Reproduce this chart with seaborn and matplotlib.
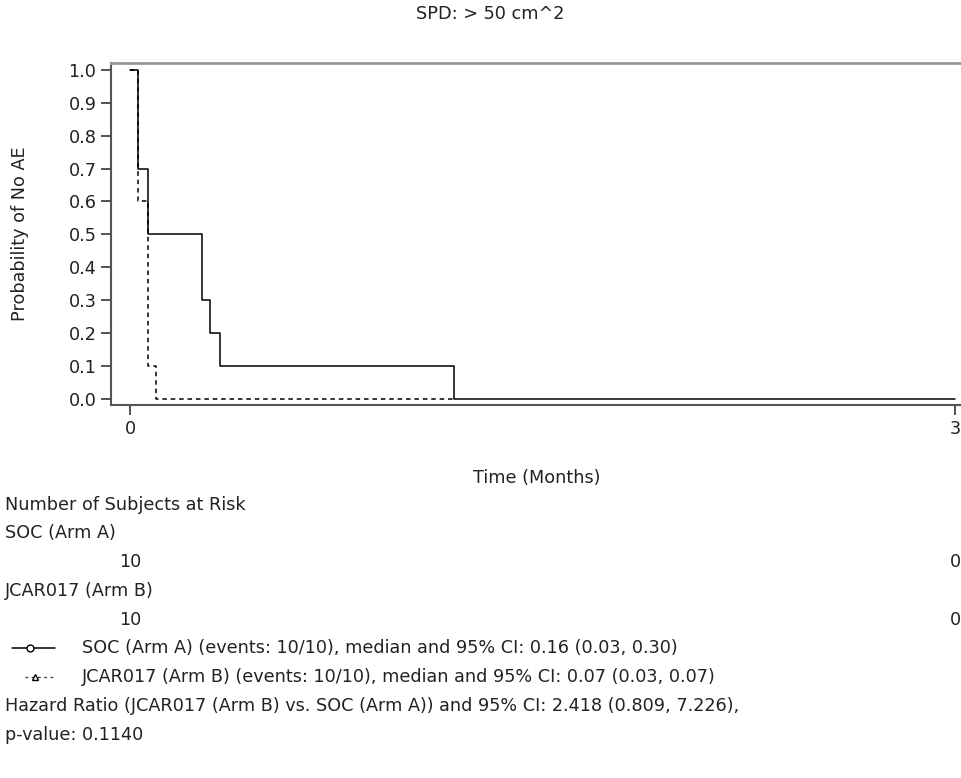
import matplotlib
matplotlib.use("Agg")
import matplotlib.pyplot as plt
from matplotlib.lines import Line2D
import pandas as pd
import seaborn as sns

# KM step data
soc_time = [0.0, 0.029, 0.065, 0.262, 0.291, 0.327, 1.178, 3.0]
soc_surv = [1.0, 0.7, 0.5, 0.3, 0.2, 0.1, 0.0, 0.0]
jcar_time = [0.0, 0.029, 0.065, 0.095, 1.178]
jcar_surv = [1.0, 0.6, 0.1, 0.0, 0.0]

y_ticks = [0.0, 0.1, 0.2, 0.3, 0.4, 0.5, 0.6, 0.7, 0.8, 0.9, 1.0]
x_ticks = [0, 3]

risk_times = [0, 3]
soc_risk = [10, 0]
jcar_risk = [10, 0]

title = "SPD: > 50 cm^2"
legend_soc = "SOC (Arm A) (events: 10/10), median and 95% CI: 0.16 (0.03, 0.30)"
legend_jcar = "JCAR017 (Arm B) (events: 10/10), median and 95% CI: 0.07 (0.03, 0.07)"
hr_text = "Hazard Ratio (JCAR017 (Arm B) vs. SOC (Arm A)) and 95% CI: 2.418 (0.809, 7.226),"
p_text = "p-value: 0.1140"

sns.set_style("ticks")
plt.rcParams['font.family'] = ['DejaVu Sans']
fs = 12.7

W, H = 962, 778
fig = plt.figure(figsize=(W / 100, H / 100), dpi=100)
ax = fig.add_axes([111 / W, 1 - 405 / H, (W - 111) / W, (405 - 63) / H])

df_soc = pd.DataFrame({'time': soc_time, 'surv': soc_surv})
df_jcar = pd.DataFrame({'time': jcar_time, 'surv': jcar_surv})
sns.lineplot(data=df_jcar, x='time', y='surv', ax=ax, drawstyle='steps-post',
             color='black', linewidth=1.1, linestyle=(0, (3, 2.5)))
sns.lineplot(data=df_soc, x='time', y='surv', ax=ax, drawstyle='steps-post',
             color='black', linewidth=1.1)

ax.set_xlim(-0.069, 3.025)
ax.set_ylim(-0.0195, 1.0213)
ax.set_xticks(x_ticks)
ax.set_yticks(y_ticks)
ax.set_yticklabels([f"{v:.1f}" for v in y_ticks])
ax.tick_params(labelsize=fs, length=7, width=1.3, color='#444444', labelcolor='#222222')

ax.spines['right'].set_visible(False)
ax.spines['top'].set_color('#999999')
ax.spines['top'].set_linewidth(2)
for s in ['left', 'bottom']:
    ax.spines[s].set_color('#555555')
    ax.spines[s].set_linewidth(1.5)

ax.set_ylabel("Probability of No AE", fontsize=fs, color='#222222')
ax.yaxis.set_label_coords(-0.107, 0.5)
ax.yaxis.label.set_va('center')
ax.set_xlabel("Time (Months)", fontsize=fs, color='#222222')
ax.xaxis.set_label_coords(0.5, -0.213)
ax.xaxis.label.set_va('center')

fig.text(490 / W, 1 - 14 / H, title, ha='center', va='center', fontsize=fs, color='#222222')


def ftext(x, y, s, **kw):
    fig.text(x / W, 1 - y / H, s, va='center', fontsize=fs, color='#222222', **kw)


# at-risk table
ftext(5, 505, "Number of Subjects at Risk")
ftext(5, 533, "SOC (Arm A)")
ftext(5, 591, "JCAR017 (Arm B)")
for t, n in zip(risk_times, soc_risk):
    ax.text(t, (405 - 562) / 342, str(n), transform=ax.get_xaxis_transform(),
            ha='center', va='center', fontsize=fs, color='#222222')
for t, n in zip(risk_times, jcar_risk):
    ax.text(t, (405 - 620) / 342, str(n), transform=ax.get_xaxis_transform(),
            ha='center', va='center', fontsize=fs, color='#222222')

# legend
fig.add_artist(Line2D([12 / W, 55 / W], [1 - 648 / H] * 2, color='black', lw=1.1))
fig.add_artist(Line2D([30 / W], [1 - 648 / H], marker='o', markersize=5, mfc='white',
                      mec='black', mew=1, color='black'))
fig.add_artist(Line2D([25 / W, 55 / W], [1 - 677 / H] * 2, color='#444444', lw=1,
                      linestyle=(0, (2, 2.5))))
fig.add_artist(Line2D([35 / W], [1 - 677 / H], marker='^', markersize=5, mfc='white',
                      mec='black', mew=1, color='black'))
ftext(82, 648, legend_soc)
ftext(82, 677, legend_jcar)
ftext(5, 706, hr_text)
ftext(5, 735, p_text)

fig.savefig("out.png", dpi=100)
